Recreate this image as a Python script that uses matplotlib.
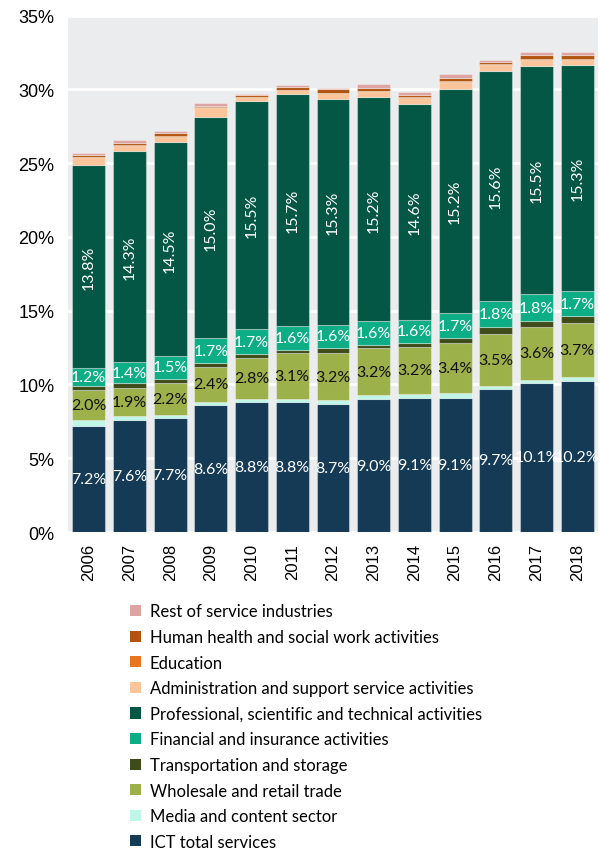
import matplotlib
matplotlib.use("Agg")
import matplotlib.pyplot as plt
import numpy as np

# shares of total (%) by sector
years = ['2006', '2007', '2008', '2009', '2010', '2011', '2012',
         '2013', '2014', '2015', '2016', '2017', '2018']
ict = [7.2, 7.6, 7.7, 8.6, 8.8, 8.8, 8.7, 9.0, 9.1, 9.1, 9.7, 10.1, 10.2]
media = [0.4, 0.25, 0.2, 0.2, 0.22, 0.22, 0.22, 0.25, 0.25, 0.3, 0.22, 0.22, 0.27]
wholesale = [2.0, 1.9, 2.2, 2.4, 2.8, 3.1, 3.2, 3.2, 3.2, 3.4, 3.5, 3.6, 3.7]
transport = [0.3, 0.35, 0.3, 0.22, 0.22, 0.23, 0.34, 0.22, 0.24, 0.34, 0.45, 0.38, 0.45]
financial = [1.2, 1.4, 1.5, 1.7, 1.7, 1.6, 1.6, 1.6, 1.6, 1.7, 1.8, 1.8, 1.7]
professional = [13.8, 14.3, 14.5, 15.0, 15.5, 15.7, 15.3, 15.2, 14.6, 15.2, 15.6, 15.5, 15.3]
admin = [0.48, 0.38, 0.37, 0.63, 0.22, 0.27, 0.36, 0.38, 0.43, 0.48, 0.36, 0.36, 0.39]
education = [0.04, 0.04, 0.05, 0.05, 0.04, 0.05, 0.05, 0.05, 0.06, 0.05, 0.05, 0.06, 0.06]
health = [0.14, 0.15, 0.2, 0.1, 0.08, 0.18, 0.22, 0.18, 0.16, 0.2, 0.2, 0.3, 0.28]
rest = [0.13, 0.18, 0.14, 0.15, 0.1, 0.14, 0.12, 0.3, 0.15, 0.25, 0.11, 0.18, 0.18]

series = [
    ("ICT total services", ict, "#143A56", "white", 0),
    ("Media and content sector", media, "#BFF6E7", None, 0),
    ("Wholesale and retail trade", wholesale, "#9CB14A", "#111111", 0),
    ("Transportation and storage", transport, "#3F4C19", None, 0),
    ("Financial and insurance activities", financial, "#0DAE86", "white", 0),
    ("Professional, scientific and technical activities", professional, "#045744", "white", 90),
    ("Administration and support service activities", admin, "#FBC49A", None, 0),
    ("Education", education, "#E8761F", None, 0),
    ("Human health and social work activities", health, "#B0540F", None, 0),
    ("Rest of service industries", rest, "#DDA4A2", None, 0),
]

lab_font = "Lato"
tick_font = "Liberation Sans"

fig = plt.figure(figsize=(6, 8.54), dpi=100)
ax = fig.add_axes([0.114, 1 - 533 / 854, 0.882, (533 - 16.5) / 854])
ax.set_facecolor("#EBECEE")

x = np.arange(len(years))
bottom = np.zeros(len(years))
handles = []
for name, vals, col, tcol, rot in series:
    vals = np.array(vals)
    b = ax.bar(x, vals, 0.81, bottom=bottom, color=col, label=name,
               edgecolor=(1, 1, 1, 0.35), linewidth=0.8, zorder=3)
    handles.append(b)
    if tcol is not None:
        for xi, v, b0 in zip(x, vals, bottom):
            ax.text(xi, b0 + v / 2, "%.1f%%" % v, ha="center", va="center",
                    color=tcol, rotation=rot, fontsize=11.5, family=lab_font,
                    zorder=4)
    bottom = bottom + vals

ax.set_xlim(-0.5, len(years) - 0.5)
ax.set_ylim(0, 35)
ax.set_yticks(np.arange(0, 36, 5))
ax.set_yticklabels(["%d%%" % t for t in range(0, 36, 5)], family=tick_font, fontsize=13)
ax.set_xticks(x)
ax.set_xticklabels(years, rotation=90, family=tick_font, fontsize=12)
ax.tick_params(length=0)
ax.tick_params(axis="x", pad=8)
ax.tick_params(axis="y", pad=10)
ax.grid(axis="y", color="white", linewidth=2, zorder=1)
ax.set_axisbelow(True)
for s in ax.spines.values():
    s.set_visible(False)

leg = fig.legend(handles[::-1], [s[0] for s in series][::-1],
                 loc="upper left", bbox_to_anchor=(0.205, 0.3),
                 frameon=False, prop={"family": lab_font, "size": 12},
                 handlelength=0.65, handleheight=0.65, handletextpad=0.55,
                 labelspacing=0.575, borderaxespad=0)
for h in leg.legend_handles:
    h.set_edgecolor("none")

fig.savefig("out.png", dpi=100)
